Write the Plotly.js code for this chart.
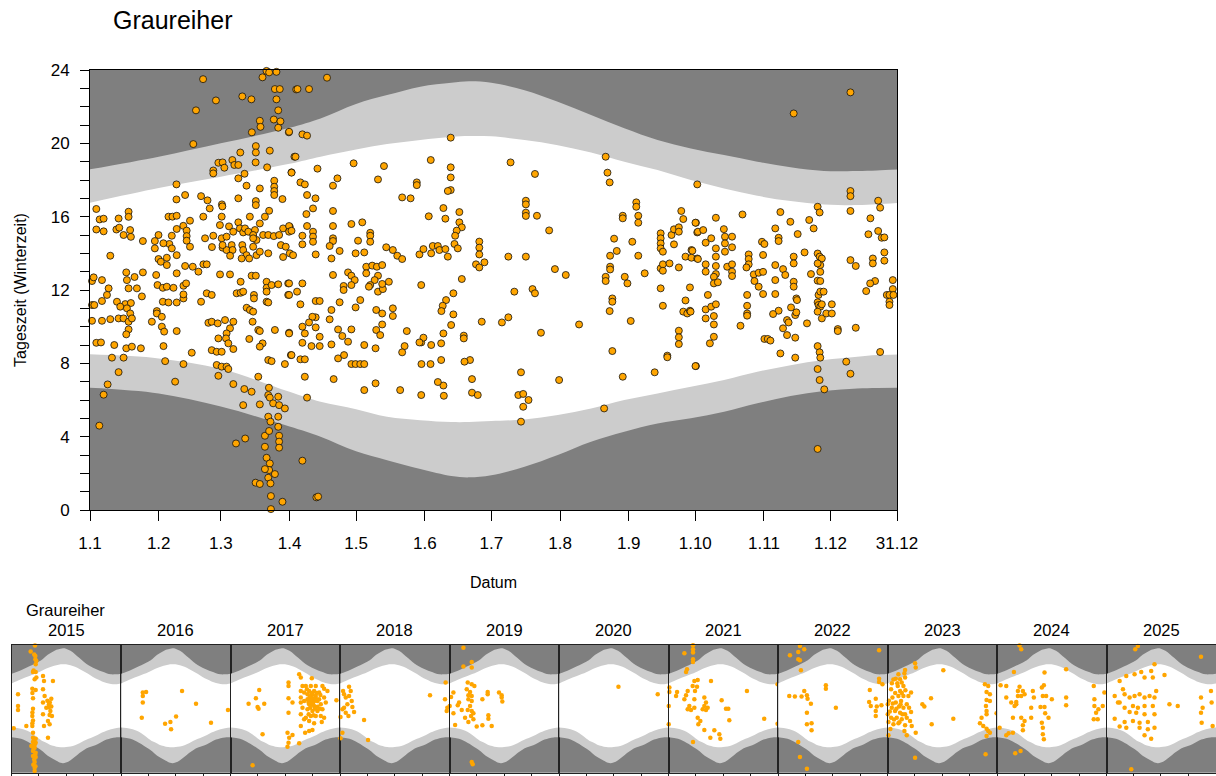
<!DOCTYPE html>
<html>
<head>
<meta charset="utf-8">
<script src="https://cdn.plot.ly/plotly-3.0.1.min.js"></script>
<style>html,body{margin:0;padding:0;background:#fff;}#chart{width:1216px;height:776px;}</style>
</head>
<body>
<div id="chart"></div>
<script>
// ---------- twilight / daylight boundaries (hour, winter time) ----------
const curveDay = [1, 32, 60, 91, 105, 121, 135, 150, 164, 172, 182, 197, 212, 227, 242, 257, 272, 287, 302, 317, 332, 347, 356, 366];
const dawnH    = [6.67, 6.36, 5.64, 4.55, 4.0, 3.2, 2.72, 2.23, 1.85, 1.78, 1.9, 2.36, 3.0, 3.72, 4.27, 4.72, 5.0, 5.36, 5.82, 6.22, 6.49, 6.63, 6.66, 6.67];
const sunriseH = [8.49, 8.27, 7.7, 6.45, 5.9, 5.5, 5.09, 4.9, 4.8, 4.8, 4.85, 4.94, 5.18, 5.54, 6.0, 6.36, 6.72, 7.09, 7.54, 7.9, 8.18, 8.36, 8.45, 8.49];
const sunsetH  = [16.76, 17.56, 18.18, 18.88, 19.27, 19.66, 19.96, 20.18, 20.36, 20.4, 20.38, 20.18, 19.9, 19.5, 19.0, 18.54, 18.0, 17.54, 17.14, 16.85, 16.67, 16.63, 16.68, 16.76];
const duskH    = [18.58, 19.27, 20.0, 20.85, 21.36, 22.15, 22.63, 23.09, 23.3, 23.38, 23.3, 22.9, 22.27, 21.54, 20.82, 20.18, 19.72, 19.36, 19.0, 18.69, 18.49, 18.49, 18.52, 18.58];

// ---------- main axis tick labels ----------
const monthTickDay = [1, 32, 60, 91, 121, 152, 182, 213, 244, 274, 305, 335, 365];
const monthTickText = ["1.1","1.2","1.3","1.4","1.5","1.6","1.7","1.8","1.9","1.10","1.11","1.12","31.12"];
const hourTicks = [0, 4, 8, 12, 16, 20, 24];

// ---------- observations, all years: [day of year, hour] ----------
const obsJanMar = [
[80.6,23.95],[81.8,23.87],[85.1,23.9],[78.8,23.6],[52,23.5],[84.4,22.96],[86.6,22.96],[69.7,22.56],[57.8,22.34],[73.8,22.4],[85.1,22.4],[48.8,21.8],[85.9,21.8],[77.6,21.23],[83.9,21.3],[86.9,21.2],[77.9,20.9],[85.9,20.85],[74.0,20.6],[90.7,20.6],[47.6,19.96],[94,22.94],
[75.8,19.85],[75.8,19.5],[68.8,19.5],[82.1,19.6],[93.2,19.27],[58.9,18.94],[60.8,18.96],[65.2,19.09],[66.1,18.82],[67.9,18.82],[56.6,18.52],[56.6,18.36],[61.6,18.67],[75.7,18.96],[80.9,18.69],[70.7,18.34],[67.9,18.09],[91.9,18.42],
[40,17.76],[84.1,17.96],[84.1,17.63],[84.1,17.4],[84.1,17.18],[71.6,17.69],[77.6,17.54],[87.8,16.96],[43.9,17.18],[40,16.94],[51.1,17.12],[54,16.89],[55,16.45],[60.5,16.67],[60.7,16.56],[67.9,17.0],[75.8,16.85],[75.8,16.63],[81.8,16.32],[3.85,16.42],[5.35,15.85],[7.15,15.89],[13.9,15.9],[18.4,16.27],[18.4,15.99],[3.85,15.3],[7.15,15.2],[12.9,15.3],[14.2,15.4],[19.1,15.27],[16.15,15.0],[19.45,14.9],[24.85,14.67],[36.4,16.0],[38.2,16.0],[40.1,16.05],[46.1,15.78],[52.1,16.0],[60.4,16.0],[40.1,15.33],[43.1,15.5],[44.6,15.24],[44.6,14.94],[44.6,14.69],[46.1,14.36],[37.9,14.96],[36.8,14.51],[31.9,15.0],[30.25,14.67],[30.25,14.27],[34.1,14.55],[37.9,14.27],[40.1,13.9],[52.9,14.82],[56.6,14.96],[56.0,14.34],[59.6,15.54],[63.7,15.47],[67.9,15.69],[68.6,15.36],[70.1,15.14],[73.1,16.0],[75.4,15.27],[77.6,15.63],[79.9,16.0],[70.9,15.36],[72.4,15.18],[74.6,15.0],[76.1,14.73],[79.1,15.0],[81.4,15.0],[83.9,14.94],[86.3,15.0],[88.1,15.36],[91.1,15.45],[87.1,14.45],[89.3,14.36],[91.1,14.0],[92.6,13.9],[88.1,13.8],[60.4,14.82],[62.6,14.91],[65.6,15.18],[60.8,14.31],[62.6,14.18],[64.9,14.45],[65.3,14.18],[64.2,13.87],[69.7,14.45],[70.1,14.18],[71.6,13.9],[74.6,14.82],[74.6,14.36],[76.1,13.9],[77.6,14.09],[81.4,14.0],[10.15,13.87],[69.4,13.72],[72.8,13.72],
[1.9,12.49],[2.65,12.69],[6.4,12.54],[17.35,12.96],[21.1,12.71],[24.85,12.96],[17.65,12.54],[9.4,12.09],[22.15,12.09],[18.4,12.09],[8.65,11.73],[6.4,11.4],[13.15,11.36],[16.9,11.23],[19.45,11.29],[24.4,11.65],[1.9,11.18],[2.95,11.18],[14.65,11.09],[17.65,11.0],[19.15,10.72],[1.9,10.32],[6.4,10.32],[10.15,10.41],[13.9,10.45],[16.15,10.45],[18.4,10.27],[19.9,10.45],[18.4,9.85],[17.35,9.58],[3.85,9.12],[5.95,9.14],[11.95,9.0],[17.35,8.82],[19.9,8.91],[23.95,8.82],[10.9,8.31],[16.15,8.31],[13.9,7.52],[8.95,6.85],[7.15,6.29],[5.2,4.6],
[30.85,12.82],[31.9,13.69],[32.95,13.54],[35.65,13.76],[35.65,13.36],[31.45,12.27],[33.85,12.12],[35.65,12.18],[38.65,12.12],[40.1,12.91],[43.15,12.23],[44.35,12.36],[43.9,13.31],[47.35,13.27],[49.9,13.0],[52.15,13.4],[33.85,11.36],[36.4,11.32],[40.1,11.32],[43.15,11.54],[43.15,11.76],[31.15,10.85],[31.15,10.72],[33.4,10.54],[33.4,10.0],[34.45,9.73],[28.9,10.27],[40.1,9.76],[34.15,8.94],[34.9,8.12],[43.15,7.96],[46.9,8.58],[39.4,7.0],[51.1,11.36],[53.65,11.82],[55.9,11.73],[54.4,10.21],[55.9,10.27],[58.6,10.18],[61.9,10.36],[65.65,10.27],[64.15,9.91],[62.6,9.63],[58.9,9.36],[62.35,9.36],[63.4,9.09],[55.9,8.72],[58.15,8.63],[60.4,8.63],[65.65,8.78],[58.15,7.91],[60.4,7.82],[62.6,7.82],[63.4,7.69],[58.9,7.32],[65.65,6.87],[70.6,6.6],[73.9,6.45],[70.1,5.72],[77.6,5.76],[67.15,11.82],[68.95,11.85],[70.1,11.91],[71.65,11.03],[73.15,10.91],[74.6,10.82],[74.95,11.73],[74.95,11.54],[74.35,10.27],[76.9,9.82],[77.6,9.76],[78.85,9.09],[77.6,8.91],[72.85,9.33],[80.65,12.45],[80.65,12.12],[80.65,11.91],[80.65,11.36],[81.4,11.32],[82.9,12.27],[85.9,12.31],[90.4,12.36],[90.4,11.73],[84.4,9.82],[90.8,9.67],[81.4,8.18],[82.9,8.12],[88.9,7.96],[91.6,8.45],[68.95,12.45],[64.15,12.85],[59.65,12.85],[53.65,13.4],[76.9,7.27],[73.9,12.78],[75.8,12.78],[60.8,14.45],
[81.7,6.67],[81.4,6.27],[82.1,6.13],[83.6,5.82],[85.9,6.18],[86.3,5.72],[88.9,5.54],[81.4,5.09],[82.4,4.82],[85.9,5.09],[85.9,4.54],[79.9,4.05],[81.8,4.31],[86.3,4.05],[86.3,3.73],[86.3,3.4],[79.9,3.45],[66.85,3.63],[71.0,3.9],[80.65,2.85],[82.1,2.54],[81.8,2.18],[79.9,2.23],[84.4,1.96],[81.4,1.76],[82.4,1.45],[75.7,1.49],[77.6,1.42],[82.6,0.76],[87.8,0.45],[82.6,0.05]
];
const obsAprJun = [
[107.9,23.58],[94.6,22.96],[99.8,22.96],[90.8,20.63],[96.8,20.49],[98.9,20.42],[163.7,20.31],[93.7,19.27],[91.9,18.4],[103.6,18.62],[119.9,18.91],[133.6,18.76],[154.7,19.09],[163.7,18.69],[163.7,18.14],[163.7,17.45],[162.4,17.4],[148.4,17.87],[148.4,17.72],[130.9,18.03],[112.6,18.09],[95.9,17.87],[97.9,17.76],[110.6,17.69],[98.9,17.18],[102.7,17.0],[101.6,16.45],[98.6,16.14],[110.6,16.31],[141.8,17.05],[145.6,17.0],[160.4,16.47],[153.8,16.02],[161.3,15.89],[167.6,16.25],[167.6,15.69],[168.7,15.42],[166.4,15.24],[165.7,14.96],[165.4,14.51],[166.9,14.27],[176.6,14.64],[176.6,14.31],[176.6,13.94],[175.1,13.4],[176.6,13.23],[178.9,13.51],[177.7,10.27],[168.7,12.6],[164.9,11.82],[161.6,11.45],[160.1,11.14],[159.5,10.85],[164.9,10.67],[163.9,10.09],[160.4,9.63],[169.6,9.51],[169.6,9.36],[172.4,8.18],[169.9,8.09],[173.3,7.14],[173.3,6.4],[175.9,6.27],[160.4,6.79],[160.6,6.23],[157.9,6.98],[150.4,6.27],[150.5,7.96],[154.6,7.96],[159.4,8.18],[159.4,9.09],[154.9,9.0],[150.4,9.14],[151.4,9.4],[140.9,6.54],[129.8,6.91],[124.7,6.54],[110.9,7.14],[98.9,6.13],[97.9,7.27],[96.8,2.69],[103.1,0.69],[103.9,0.73],
[90.8,15.49],[90.8,15.18],[91.9,15.23],[96.8,14.96],[96.8,14.49],[98.9,15.49],[101.6,15.18],[101.6,14.91],[101.6,14.63],[102.8,13.94],[110.6,15.49],[110.6,14.82],[110.6,14.67],[118.9,15.6],[123.8,15.69],[127.4,15.12],[127.4,14.96],[127.4,14.63],[121.9,14.69],[109.1,14.4],[113.6,14.13],[109.9,13.72],[120.8,14.0],[124.7,14.05],[134.6,14.33],[137.6,14.18],[139.6,13.87],[141.8,13.69],[149.6,13.94],[151.4,14.23],[155.6,14.4],[157.9,14.4],[158.6,14.18],[161.3,14.23],[162.4,13.82],[154.9,14.0],[150.4,12.27],[110.6,12.82],[90.8,12.36],[96.8,12.36],[90.8,11.73],[94.4,11.91],[95.9,11.22],[102.8,11.4],[104.6,11.4],[113.6,11.33],[109.9,10.91],[109.1,10.4],[102.8,10.51],[101.3,10.54],[99.8,10.23],[96.8,10.0],[97.9,9.63],[96.8,9.12],[100.9,8.94],[104.6,8.94],[104.6,9.45],[102.8,9.96],[91.9,8.45],[95.9,8.22],[97.9,8.22],[109.9,9.03],[112.9,9.85],[114.8,9.49],[117.4,9.18],[118.9,9.85],[112.9,8.27],[115.6,8.45],[118.9,7.96],[120.8,7.96],[122.9,7.96],[124.7,7.96],[124.7,9.0],[129.8,8.82],[130.1,9.82],[131.9,9.54],[132.8,10.12],[130.1,10.91],[132.8,10.72],[137.6,11.0],[137.6,10.58],[143.9,9.76],[142.9,8.94],[141.8,8.6],[149.6,9.14],[122.9,11.45],[120.8,11.05],[115.4,12.22],[117.4,12.96],[118.9,12.78],[120.4,12.54],[118.9,12.27],[115.4,12.0],[125.6,13.27],[125.6,12.91],[128.3,13.33],[130.4,13.27],[132.8,13.36],[130.9,12.78],[129.4,12.54],[127.4,12.27],[130.9,11.91],[133.1,12.05],[135.8,12.45],[132.8,12.33],[126.8,12.18],[90.8,9.63]
];
const obsJulSep = [
[190.7,18.96],[201.7,18.33],[233.6,19.27],[234.4,18.4],[235.4,17.87],[197.6,16.87],[197.6,16.67],[197.6,16.22],[197.6,16.04],[202.6,16.05],[208.1,15.25],[247.4,16.78],[247.4,16.54],[248.3,16.05],[248.3,15.67],[241.3,16.05],[241.3,15.91],[237.4,14.8],[245.6,14.63],[238.6,14.13],[235.6,13.87],[248.3,13.87],[235.6,13.27],[235.6,13.12],[233.6,12.72],[233.6,12.49],[242.2,12.72],[243.4,12.36],[251.2,12.91],[189.7,13.82],[197.6,13.82],[210.7,13.14],[215.6,12.82],[192.4,11.91],[200.6,12.05],[201.7,11.82],[236.6,11.54],[236.6,11.36],[235.4,10.85],[244.9,10.31],[221.6,10.12],[189.7,10.51],[186.8,10.23],[204.4,9.67],[236.6,8.67],[195.4,7.51],[212.6,7.09],[241.3,7.27],[255.7,7.51],[194.2,6.27],[196.4,6.33],[198.8,6.0],[196.4,5.63],[195.4,4.82],[232.9,5.54],
[258.4,15.09],[258.4,14.82],[258.4,14.54],[258.4,14.27],[259.4,14.09],[258.4,13.18],[259.4,13.4],[259.4,13.05],[262.4,13.45],[263.3,15.0],[264.4,15.31],[264.4,14.49],[266.6,15.42],[266.6,15.18],[267.7,16.31],[268.6,15.87],[274.3,15.67],[274.9,15.14],[272.3,14.18],[269.6,13.82],[272.3,13.76],[274.9,13.72],[266.6,13.23],[271.6,12.14],[258.4,12.09],[259.4,11.14],[269.6,11.43],[268.6,10.82],[270.4,10.72],[271.6,10.87],[266.6,9.78],[266.6,9.42],[266.6,9.05],[261.4,8.42],[261.4,8.33],[274.3,7.85],[274.9,17.76]
];
const obsOctDec = [
[344.0,22.78],[318.4,21.63],[344.0,17.4],[344.0,17.12],[344.0,16.31],[356.5,16.87],[357.4,16.49],[329.2,16.54],[330.1,16.23],[312.4,16.25],[295.3,16.12],[283.3,15.94],[275.2,15.18],[277.6,15.27],[278.7,14.58],[281.2,14.82],[283.3,14.27],[283.3,13.82],[283.3,13.31],[283.3,12.87],[286.9,15.32],[287.4,14.91],[287.4,14.54],[287.4,14.09],[290.6,14.91],[290.6,14.33],[288.4,13.27],[290.6,13.4],[290.6,13.0],[290.6,12.76],[278.7,13.4],[278.7,13.0],[275.2,13.69],[282.4,12.72],[282.4,12.36],[284.2,12.42],[279.7,11.73],[278.7,10.94],[278.7,10.45],[281.2,11.09],[283.3,11.22],[282.4,10.58],[282.4,10.12],[282.4,9.45],[280.6,9.09],[298.1,13.94],[298.1,13.69],[298.1,13.4],[297.1,13.23],[300.4,12.85],[302.6,12.94],[300.7,12.49],[302.6,12.18],[304.6,12.99],[304.1,14.63],[305.2,14.51],[304.6,13.91],[297.4,11.73],[297.4,11.14],[297.4,10.72],[297.4,10.6],[294.4,10.05],[304.6,11.78],[310.1,15.36],[311.6,14.85],[311.6,14.67],[310.1,13.36],[310.1,12.54],[310.1,11.78],[313.6,13.14],[314.6,12.82],[316.9,15.72],[320.2,15.05],[318.4,13.82],[318.4,13.45],[318.4,12.45],[318.4,12.18],[319.6,11.54],[319.9,11.45],[317.2,11.05],[319.1,10.63],[319.6,10.78],[311.6,10.87],[309.1,10.69],[315.4,10.36],[316.1,10.23],[313.6,9.91],[315.4,9.54],[319.1,9.4],[305.2,9.33],[306.7,9.33],[307.9,9.24],[312.4,8.54],[319.1,8.31],[323.3,14.05],[326.2,12.87],[324.4,10.18],[325.4,15.82],[327.4,15.36],[329.2,13.99],[330.1,13.82],[331.1,13.72],[330.4,13.36],[329.2,13.45],[330.4,12.99],[329.2,12.51],[330.4,12.49],[329.6,11.73],[330.4,11.91],[331.9,11.91],[329.2,11.33],[329.6,11.18],[330.4,11.09],[331.1,11.22],[329.2,10.82],[331.1,10.45],[333.1,10.72],[335.6,11.22],[335.6,10.72],[338.3,9.87],[338.3,9.76],[346.4,9.94],[329.2,8.94],[330.1,8.6],[330.4,8.31],[329.2,7.69],[330.1,7.09],[332.2,6.58],[329.2,3.33],[342.1,8.09],[344.0,7.43],[357.4,8.62],[344.0,13.63],[346.4,13.31],[352.1,15.04],[353.0,15.91],[356.5,15.22],[358.1,14.85],[359.3,14.87],[359.3,14.05],[359.3,13.6],[354.1,13.72],[354.1,13.45],[355.1,12.49],[352.9,12.36],[351.1,11.94],[363.1,12.54],[363.1,12.05],[360.4,11.73],[361.6,11.73],[361.6,11.36],[361.6,11.18],[363.4,11.73],[272.7,14.14],[274.1,15.67],[274.1,7.85],[271.9,10.82]
];

// ---------- observations per year: [day of year, hour] ----------
const years = [2015, 2016, 2017, 2018, 2019, 2020, 2021, 2022, 2023, 2024, 2025];
const obs2015 = [[78.6,23.9],[64.2,22.8],[79.8,21.94],[79.8,21.3],[83.1,21.0],[72,18.93],[80.9,18.93],[83.1,17.87],[77.5,17.55],[69.8,15.8],[80.9,15.55],[72,13.98],[69.8,10.66],[69.8,9.28],[69.8,8.78],[49.8,8.78],[72,7.53],[72,6.59],[80.9,6.4],[72,5.77],[80.9,5.65],[66.5,5.02],[77.5,4.71],[72,4.08],[80.9,3.77],[72,3.14],[80.9,2.96],[77.5,2.02],[77.5,0.95],[77.5,0.32],[22.1,14.74],[22.1,12.54],[22.1,11.79],[7.7,8.34],[105.3,18.18],[108.6,17.24],[138.5,17.24],[105.3,15.67],[110.8,14.42],[133,13.92],[105.3,13.17],[125.2,12.86],[116.4,12.23],[133,12.42],[105.3,10.98],[127.4,10.85],[135.2,10.66],[121.9,9.72],[127.4,9.1],[108.6,8.78],[121.9,6.59],[75,6.0],[78,5.3],[74,4.5],[79,3.4],[76,2.5],[73,1.5],[80,1.2],[76,22.2],[81,20.4],[74,19.2],[70,15.0],[72,12.0],[70,11.3],[72,9.8],[125,12.3],[130,11.6],[120,13.5],[128,13.2]];
const obs2016 = [[73,15.05],[84,15.17],[73,14.42],[73,13.17],[203.8,15.36],[250.4,12.98],[69.6,10.35],[183.9,10.54],[165,9.54],[147.3,9.22],[167.2,8.16],[300.3,9.41],[356.9,11.79]];
const obs2017 = [[60.6,12.98],[85,13.98],[96.1,15.55],[90.6,12.36],[93.9,12.04],[112.8,12.98],[107.2,7.22],[74,1.39],[229.2,18.49],[234.7,17.87],[271.3,17.74],[193.7,16.93],[193.7,16.3],[193.7,13.98],[207,13.17],[193.7,11.29],[190.4,7.53],[195.9,6.59],[193.7,5.65],[190.4,4.9],[207,7.09],[229.2,5.52],[234.7,8.78],[249.1,7.53],[262.4,7.84],[273.5,8.03],[245.8,10.04],[240.3,16.3],[251.4,16.3],[268,16.3],[284.6,16.3],[306.8,16.3],[312.4,15.8],[323.5,15.36],[234.7,15.36],[245.8,15.05],[262.4,15.36],[279,15.36],[295.7,15.05],[273.5,14.74],[284.6,14.42],[268,14.11],[257,13.8],[279,13.48],[295.7,13.8],[312.4,14.11],[234.7,14.11],[234.7,13.17],[245.8,13.48],[262.4,12.86],[279,12.54],[301.3,12.86],[317.9,13.17],[240.3,12.23],[257,11.92],[273.5,11.6],[290.1,11.6],[306.8,11.92],[284.6,10.66],[268,10.66],[251.4,10.35],[301.3,10.66],[312.4,10.35],[234.7,10.98],[262.4,9.72],[279,9.28],[304.6,9.54],[257,14.74],[290.1,13.48],[353.4,13.61],[265,14.3],[270,13.9],[275,14.0],[280,13.8],[268,13.5],[276,13.2],[285,13.9],[272,12.9],[266,12.2],[282,12.0],[290,12.4],[260,13.3],[287,15.0],[270,15.0],[255,15.7],[300,14.6],[298,12.0],[261,11.0],[277,10.8]];
const obs2018 = [[2,10.48],[2,6.47],[8.4,7.53],[10.6,15.36],[13.9,14.74],[19.5,14.11],[30.5,16.17],[36.1,15.36],[30.5,14.42],[39.4,13.48],[24.9,12.86],[13.9,12.23],[8.4,11.92],[19.5,11.29],[28.4,10.66],[47.2,11.41],[41.6,12.36],[80.5,9.91],[93.8,6.15],[300.4,14.55],[352.5,16.93],[350.3,13.8],[358.1,12.23],[355.9,11.6]];
const obs2019 = [[5.6,14.23],[1,12.54],[13.4,15.05],[13.4,11.16],[19,8.97],[46.7,23.5],[46.7,19.94],[74.4,20.81],[74.4,19.75],[61.1,16.93],[74.4,16.62],[83.3,16.3],[57.8,15.67],[68.9,15.17],[63.3,14.55],[74.4,14.42],[63.3,13.8],[74.4,13.48],[68.9,12.54],[61.1,11.79],[74.4,11.6],[80,11.16],[72.2,10.66],[80,10.04],[63.3,9.54],[52.2,10.35],[41.1,11.79],[32.3,13.17],[27.8,12.67],[109.9,13.8],[127.6,15.17],[127.6,14.74],[91,8.66],[109.9,8.91],[141,8.78],[129.9,10.79],[129.9,10.16],[165.3,15.05],[174.2,14.55],[174.2,14.11],[176.4,13.36],[74.4,2.02],[77.7,1.58]];
const obs2020 = [[198.5,16.17],[329.4,14.74]];
const obs2021 = [[3.3,15.99],[3.3,15.17],[1.1,12.54],[1.1,9.1],[53.3,22.44],[62.1,19.43],[58.8,18.93],[82.1,23.95],[82.1,23.19],[82.1,22.57],[82.1,21.31],[82.1,20.81],[28.9,15.17],[25.5,14.42],[64.3,15.36],[58.8,14.55],[53.2,13.8],[86.5,17.24],[97.6,17.43],[81,16.3],[95.4,16.17],[88.7,15.36],[86.5,13.8],[69.8,12.54],[75.4,11.79],[64.3,11.92],[86.5,12.23],[119.8,14.11],[125.3,13.17],[119.8,12.54],[130.9,12.23],[114.2,11.92],[125.3,11.79],[97.6,10.35],[106.5,9.72],[99.8,9.1],[119.8,8.03],[139.8,6.59],[153.1,7.97],[169.8,7.22],[173.1,6.4],[191.9,12.04],[199.7,12.04],[203,9.85],[177.5,13.61],[142,17.24],[261.8,15.36],[319.4,10.16],[82.1,5.77],[363.8,16.62],[363.8,9.22]];
const obs2022 = [[0.5,4.52],[40.1,22.07],[73.4,23.82],[67.9,22.69],[67.9,21.31],[73.4,21.13],[76.7,19.25],[37.9,14.42],[56.6,14.3],[78.9,14.3],[67.9,5.77],[73.4,2.96],[87.8,23.2],[337.3,23],[87.8,15.36],[96.7,14.55],[98.9,13.92],[110,12.98],[96.7,11.29],[96.7,9.1],[112.2,9.28],[112.2,7.97],[159.9,16.43],[159.9,15.8],[193.2,12.23],[306.3,15.55],[304.1,13.29],[309.6,12.54],[326.2,13.92],[329.6,12.42],[326.2,11.6],[326.2,10.66],[337.3,17.68],[337.3,17.05],[348.4,16.62],[96.7,0.76],[345.1,12.67]];
const obs2023 = [[1.2,12.86],[1.2,10.98],[3.5,9.54],[3.5,7.03],[12.3,15.67],[16.8,14.11],[14.6,12.23],[12.3,10.35],[20.1,9.1],[27.9,17.68],[36.7,18.49],[42.3,17.55],[47.8,16.93],[34.5,16.3],[53.4,16.3],[42.3,15.36],[36.7,14.42],[53.4,14.42],[45.6,13.48],[27.9,13.17],[39,12.42],[53.4,12.23],[25.6,11.6],[42.3,11.29],[58.9,10.98],[31.2,10.35],[47.8,10.04],[64.5,10.35],[36.7,9.28],[58.9,8.91],[56.7,7.84],[64.5,7.03],[75.5,9.72],[81.1,8.78],[94.4,7.53],[72.2,12.23],[78.9,11.41],[64.5,12.86],[70,14.42],[78.9,15.05],[92.2,20.56],[94.4,19.75],[58.9,19.31],[56.7,18.68],[58.9,17.87],[92.2,2.83],[116.6,12.86],[123.2,12.42],[145.4,13.98],[147.6,9.1],[186.4,19.25],[219.7,10.16],[325,16.62],[336.1,16.3],[330.6,15.17],[341.7,14.74],[330.6,13.67],[341.7,13.48],[328.4,12.54],[330.6,11.6],[330.6,10.98],[313.9,10.35],[308.4,9.28],[319.5,8.78],[330.6,8.28],[336.1,7.84],[330.6,6.9],[341.7,7.53],[327.3,3.46],[363.9,11.16],[5,13.5],[8,11.5],[18,13.0],[22,10.0],[30,12.0],[44,12.8],[50,11.0],[40,9.5],[10,8.2],[26,15.0],[48,15.0],[33,16.8],[60,15.5],[15,16.8],[20,17.5]];
const obs2024 = [[75.5,23.9],[81.1,23.2],[56.7,18.93],[78.9,4.08],[61.1,3.64],[12.3,16.43],[9,8.47],[31.2,16.3],[31.2,14.11],[31.2,7.03],[39,7.41],[53.4,7.53],[64.5,13.29],[70,15.36],[75.5,16.17],[86.6,15.36],[81.1,14.42],[70,14.42],[92.2,14.74],[53.4,10.35],[64.5,12.86],[47.8,13.17],[58.9,12.54],[81.1,10.35],[92.2,9.72],[86.6,8.91],[86.6,7.97],[114.3,12.23],[114.3,10.35],[119.8,15.36],[123.2,14.11],[149.8,15.99],[156.5,16.43],[153.1,14.42],[164.2,14.42],[183.1,13.8],[145.4,12.36],[158.7,12.36],[160.9,11.16],[172,10.35],[149.8,9.41],[153.1,8.47],[153.1,7.22],[156.5,6.28],[158.7,18.81],[230.8,19.43],[230.8,14.11],[230.8,12.67],[322.8,16.3],[325,13.8],[325,12.54],[330.6,11.29],[336.1,10.04],[352.8,12.54],[358.3,15.05],[338.3,11.92],[322.8,10.04]];
const obs2025 = [[96.3,23.2],[105.2,23.82],[83,0.64],[315.9,21.8],[44.2,17.24],[66.4,18.18],[94.1,18.49],[116.3,18.93],[149.5,19.12],[160.6,20.37],[155,17.87],[127.4,17.87],[194,18.37],[27.6,14.42],[38.7,13.17],[55.3,15.67],[60.8,14.74],[77.5,14.11],[94.1,14.42],[110.8,14.74],[127.4,14.11],[144.1,14.42],[160.6,14.11],[166.2,15.36],[44.2,13.17],[60.8,12.23],[88.6,12.54],[105.2,12.23],[127.4,12.54],[155,12.54],[77.5,11.41],[99.6,11.29],[127.4,10.98],[160.6,10.98],[27.6,10.16],[60.8,9.54],[88.6,9.72],[110.8,9.41],[138.5,9.54],[44.2,8.66],[66.4,8.47],[110.8,8.47],[138.5,8.16],[160.6,8.47],[127.4,7.03],[149.5,6.4],[210.5,12.86],[238.2,12.54],[315.9,14.11],[315.9,11.29],[321.4,12.23],[318.1,9.41],[349.2,15.36],[351.4,13.17],[354.7,8.78]];
const quarterTicks = [1, 91, 182, 274];

// ---------- build ----------
const yearObs = [obs2015, obs2016, obs2017, obs2018, obs2019, obs2020, obs2021, obs2022, obs2023, obs2024, obs2025];
const ORANGE = '#FFA500', LIGHT = '#cccccc', DARK = '#7f7f7f';
const FONT = 'Liberation Sans, Arial, Helvetica, sans-serif';

function bgTraces(xa, ya) {
  const base = {x: curveDay, xaxis: xa, yaxis: ya, mode: 'lines', line: {width: 0, shape: 'spline'}, hoverinfo: 'skip', showlegend: false};
  return [
    Object.assign({}, base, {y: dawnH}),
    Object.assign({}, base, {y: duskH, fill: 'tonexty', fillcolor: LIGHT}),
    Object.assign({}, base, {y: sunriseH}),
    Object.assign({}, base, {y: sunsetH, fill: 'tonexty', fillcolor: '#ffffff'})
  ];
}

const data = [];
data.push(...bgTraces('x', 'y'));
const allObs = [].concat(obsJanMar, obsAprJun, obsJulSep, obsOctDec);
data.push({
  x: allObs.map(p => p[0]), y: allObs.map(p => p[1]), xaxis: 'x', yaxis: 'y',
  mode: 'markers', type: 'scatter', cliponaxis: false, hoverinfo: 'skip', showlegend: false,
  marker: {size: 7, color: ORANGE, line: {color: '#111', width: 0.8}}
});

const W = 1216, H = 776;
const layout = {
  width: W, height: H, margin: {l: 0, r: 0, t: 0, b: 0},
  paper_bgcolor: '#ffffff', plot_bgcolor: DARK, hovermode: false, showlegend: false,
  font: {family: FONT, color: '#000', size: 16},
  title: {text: 'Graureiher', x: 113 / W, xref: 'paper', xanchor: 'left', y: 1 - 20 / H, yref: 'paper', yanchor: 'middle', font: {size: 25, family: FONT, color: '#000'}},
  xaxis: {
    domain: [90 / W, 897 / W], range: [1, 365], anchor: 'y',
    tickmode: 'array', tickvals: monthTickDay, ticktext: monthTickText,
    ticks: 'outside', ticklen: 10, tickcolor: '#000', tickwidth: 1, ticklabelstandoff: 8,
    tickfont: {size: 17, family: FONT, color: '#000'},
    showline: true, mirror: true, linecolor: '#000', linewidth: 1, showgrid: false, zeroline: false,
    title: {text: 'Datum', font: {size: 16, family: FONT, color: '#000'}, standoff: 24}
  },
  yaxis: {
    domain: [1 - 510 / H, 1 - 70 / H], range: [0, 24], anchor: 'x',
    tickmode: 'array', tickvals: hourTicks,
    ticks: 'outside', ticklen: 9, tickcolor: '#000', tickwidth: 1, ticklabelstandoff: 7,
    minor: {dtick: 1, ticks: 'outside', ticklen: 9, tickcolor: '#000', tickwidth: 1, showgrid: false},
    tickfont: {size: 17, family: FONT, color: '#000'},
    showline: true, mirror: true, linecolor: '#000', linewidth: 1, showgrid: false, zeroline: false,
    title: {text: 'Tageszeit (Winterzeit)', font: {size: 16, family: FONT, color: '#000'}, standoff: 20}
  },
  yaxis2: {
    domain: [1 - 772.7 / H, 1 - 645 / H], range: [0, 24], anchor: 'x2',
    showticklabels: false, ticks: '', showgrid: false, zeroline: false,
    showline: true, mirror: 'all', linecolor: '#222', linewidth: 1
  },
  annotations: [
    {text: 'Graureiher', xref: 'paper', yref: 'paper', x: 24 / W, y: 1 - 610 / H, xanchor: 'left', yanchor: 'middle', showarrow: false, font: {size: 16.5, family: FONT, color: '#000'}}
  ]
};

const stripLeft = 11.7, panelW = 109.5;
years.forEach((yr, i) => {
  const n = i + 2, xa = 'x' + n;
  const d0 = (stripLeft + panelW * i) / W;
  const d1 = Math.min(1, (stripLeft + panelW * (i + 1)) / W);
  layout['xaxis' + n] = {
    domain: [d0, d1], range: [1, 366], anchor: 'y2',
    tickmode: 'array', tickvals: quarterTicks, ticks: 'outside', ticklen: 5, tickcolor: '#222',
    showticklabels: false, showgrid: false, zeroline: false,
    showline: true, mirror: true, linecolor: '#222', linewidth: 1
  };
  data.push(...bgTraces(xa, 'y2'));
  const pts = yearObs[i];
  data.push({
    x: pts.map(p => p[0]), y: pts.map(p => p[1]), xaxis: xa, yaxis: 'y2',
    mode: 'markers', type: 'scatter', cliponaxis: false, hoverinfo: 'skip', showlegend: false,
    marker: {size: 4.5, color: ORANGE, line: {width: 0}}
  });
  layout.annotations.push({
    text: String(yr), xref: xa + ' domain', yref: 'paper', x: 0.5, y: 1 - 629.5 / H,
    xanchor: 'center', yanchor: 'middle', showarrow: false, font: {size: 16.5, family: FONT, color: '#000'}
  });
});

Plotly.newPlot('chart', data, layout, {staticPlot: true, displayModeBar: false});
</script>
</body>
</html>
